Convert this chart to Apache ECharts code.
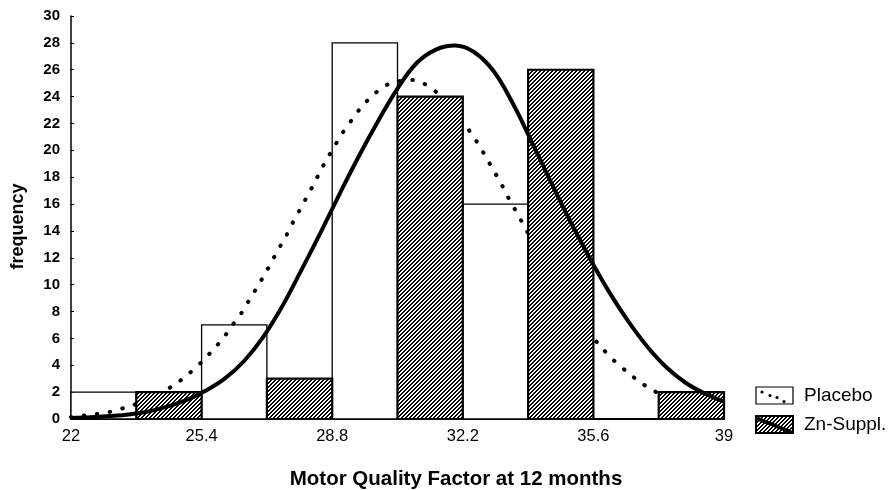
<!DOCTYPE html>
<html>
<head>
<meta charset="utf-8">
<script src="https://cdn.jsdelivr.net/npm/echarts@6/dist/echarts.min.js"></script>
<style>html,body{margin:0;padding:0;background:#fff;}#c{width:892px;height:490px;}</style>
</head>
<body>
<div id="c"></div>
<script>
// ---- data ----
const xTicks = [22, 25.4, 28.8, 32.2, 35.6, 39];
const placeboBinStart = [22, 25.4, 28.8, 32.2, 35.6];
const placeboBinEnd   = [23.7, 27.1, 30.5, 33.9, 37.3];
const placeboFreq     = [2, 7, 28, 16, 0];
const znBinStart = [23.7, 27.1, 30.5, 33.9, 37.3];
const znBinEnd   = [25.4, 28.8, 32.2, 35.6, 39];
const znFreq     = [2, 3, 24, 26, 2];

// fitted curve for Placebo (dotted), read point by point
const placeboCurveX = [22.0,22.32,22.68,23.02,23.36,23.67,24.0,24.36,24.71,25.04,25.38,25.69,25.97,26.21,26.45,26.66,26.86,27.06,27.24,27.42,27.61,27.78,27.96,28.14,28.32,28.49,28.67,28.87,29.07,29.31,29.56,29.89,30.22,30.55,30.89,31.22,31.55,31.9,32.16,32.38,32.6,32.8,32.99,33.18,33.35,33.54,33.72,34.0,34.5,35.0,35.5,35.83,36.14,36.49,36.82,37.15,37.5,38.0,38.5,39.0];
const placeboCurveY = [0.15,0.25,0.37,0.54,0.8,1.09,1.5,1.99,2.58,3.3,4.19,5.12,6.05,7.02,7.94,8.94,9.88,10.85,11.79,12.73,13.68,14.65,15.58,16.53,17.48,18.44,19.38,20.35,21.3,22.26,23.23,24.18,24.87,25.15,25.24,24.92,24.25,23.4,22.36,21.42,20.48,19.51,18.56,17.62,16.66,15.69,14.77,13.3,10.7,8.4,6.4,5.26,4.34,3.48,2.73,2.14,1.6,1.15,0.8,0.55];

// fitted curve for Zn-Suppl. (solid), every 0.5
const znCurveX = [22,22.5,23,23.5,24,24.5,25,25.5,26,26.5,27,27.5,28,28.5,29,29.5,30,30.5,31,31.5,32,32.5,33,33.5,34,34.5,35,35.5,36,36.5,37,37.5,38,38.5,39];
const znCurveY = [0.08,0.13,0.22,0.34,0.55,0.92,1.4,2.1,3.0,4.3,6.1,8.4,11.1,13.9,16.8,19.6,22.2,24.6,26.5,27.5,27.8,27.3,25.9,23.5,20.6,17.6,14.7,12.0,9.5,7.3,5.4,3.85,2.7,1.9,1.3];

// hatch pattern
const pc = document.createElement('canvas');
pc.width = 4; pc.height = 4;
const g = pc.getContext('2d');
g.fillStyle = '#fff'; g.fillRect(0,0,4,4);
g.fillStyle = '#000';
for (let y = 0; y < 4; y++) for (let x = 0; x < 4; x++) {
  const m = (x + y) % 4;
  if (m === 3 || m === 2) g.fillRect(x, y, 1, 1);
}
const hatch = { image: pc, repeat: 'repeat' };

function bars(starts, ends, vals) {
  return starts.map((s, i) => [s, ends[i], vals[i]]);
}
function rectRender(fill, lw) {
  return function (params, api) {
    const v = api.value(2);
    if (!v) return null;
    const p0 = api.coord([api.value(0), v]);
    const p1 = api.coord([api.value(1), 0]);
    return { type: 'rect',
      shape: { x: p0[0], y: p0[1], width: p1[0] - p0[0], height: p1[1] - p0[1] },
      style: { fill: fill, stroke: '#000', lineWidth: lw } };
  };
}
const FF = 'Liberation Sans, Arial, sans-serif';

const chart = echarts.init(document.getElementById('c'), null, { renderer: 'canvas' });
chart.setOption({
  animation: false,
  backgroundColor: '#fff',
  textStyle: { fontFamily: FF, color: '#000' },
  title: {
    text: 'Motor Quality Factor at 12 months',
    left: 451, top: 464, textAlign: 'center',
    textStyle: { fontSize: 20.5, fontWeight: 'bold', color: '#000', fontFamily: FF }
  },
  grid: { left: 71, right: 168, top: 16, bottom: 71, outerBoundsMode: 'none', containLabel: false },
  legend: {
    orient: 'vertical', left: 755, top: 386, padding: 0,
    itemWidth: 37, itemHeight: 17, itemGap: 10,
    textStyle: { fontSize: 19, lineHeight: 17, color: '#000', padding: [0, 0, 0, 6], fontFamily: FF },
    data: [
      { name: 'Placebo', icon: 'rect', itemStyle: { color: '#fff', borderColor: '#000', borderWidth: 1.2 } },
      { name: 'Zn-Suppl.', icon: 'rect', itemStyle: { color: hatch, borderColor: '#000', borderWidth: 2 } }
    ]
  },
  graphic: [
    { type: 'circle', z: 100, shape: { cx: 762, cy: 392, r: 1.6 }, style: { fill: '#000' } },
    { type: 'circle', z: 100, shape: { cx: 770, cy: 395.5, r: 1.6 }, style: { fill: '#000' } },
    { type: 'circle', z: 100, shape: { cx: 777, cy: 397.5, r: 1.6 }, style: { fill: '#000' } },
    { type: 'circle', z: 100, shape: { cx: 784, cy: 401.5, r: 1.6 }, style: { fill: '#000' } },
    { type: 'line', z: 100, shape: { x1: 756, y1: 418, x2: 791, y2: 432 }, style: { stroke: '#000', lineWidth: 4 } }
  ],
  xAxis: {
    type: 'value', min: 22, max: 39,
    axisLine: { show: true, lineStyle: { color: '#000', width: 2 } },
    axisTick: { show: false },
    splitLine: { show: false },
    axisLabel: { customValues: xTicks, fontSize: 16.5, color: '#000', margin: 9, fontFamily: FF }
  },
  yAxis: {
    type: 'value', min: 0, max: 30, interval: 2,
    name: 'frequency', nameLocation: 'middle', nameGap: 44,
    nameTextStyle: { fontSize: 18, fontWeight: 'bold', color: '#000', padding: [0, 18, 0, 0], fontFamily: FF },
    axisLine: { show: true, lineStyle: { color: '#000', width: 1.5 } },
    axisTick: { show: true, inside: true, length: 3, lineStyle: { color: '#000' } },
    splitLine: { show: false },
    axisLabel: { fontSize: 15, fontWeight: 'bold', color: '#000', margin: 11, fontFamily: FF }
  },
  series: [
    { name: 'Placebo', type: 'custom', z: 1, encode: { x: [0, 1], y: 2 },
      renderItem: rectRender('#fff', 1.3), data: bars(placeboBinStart, placeboBinEnd, placeboFreq) },
    { name: 'Placebo', type: 'line', z: 2, smooth: 0.3, symbol: 'none',
      data: placeboCurveX.map((x, i) => [x, placeboCurveY[i]]),
      lineStyle: { color: '#000', width: 4, type: [0.5, 12.5], cap: 'round' } },
    { name: 'Zn-Suppl.', type: 'custom', z: 3, encode: { x: [0, 1], y: 2 },
      renderItem: rectRender(hatch, 2.2), data: bars(znBinStart, znBinEnd, znFreq) },
    { name: 'Zn-Suppl.', type: 'line', z: 4, smooth: 0.4, symbol: 'none',
      data: znCurveX.map((x, i) => [x, znCurveY[i]]),
      lineStyle: { color: '#000', width: 4 } }
  ]
});
</script>
</body>
</html>
